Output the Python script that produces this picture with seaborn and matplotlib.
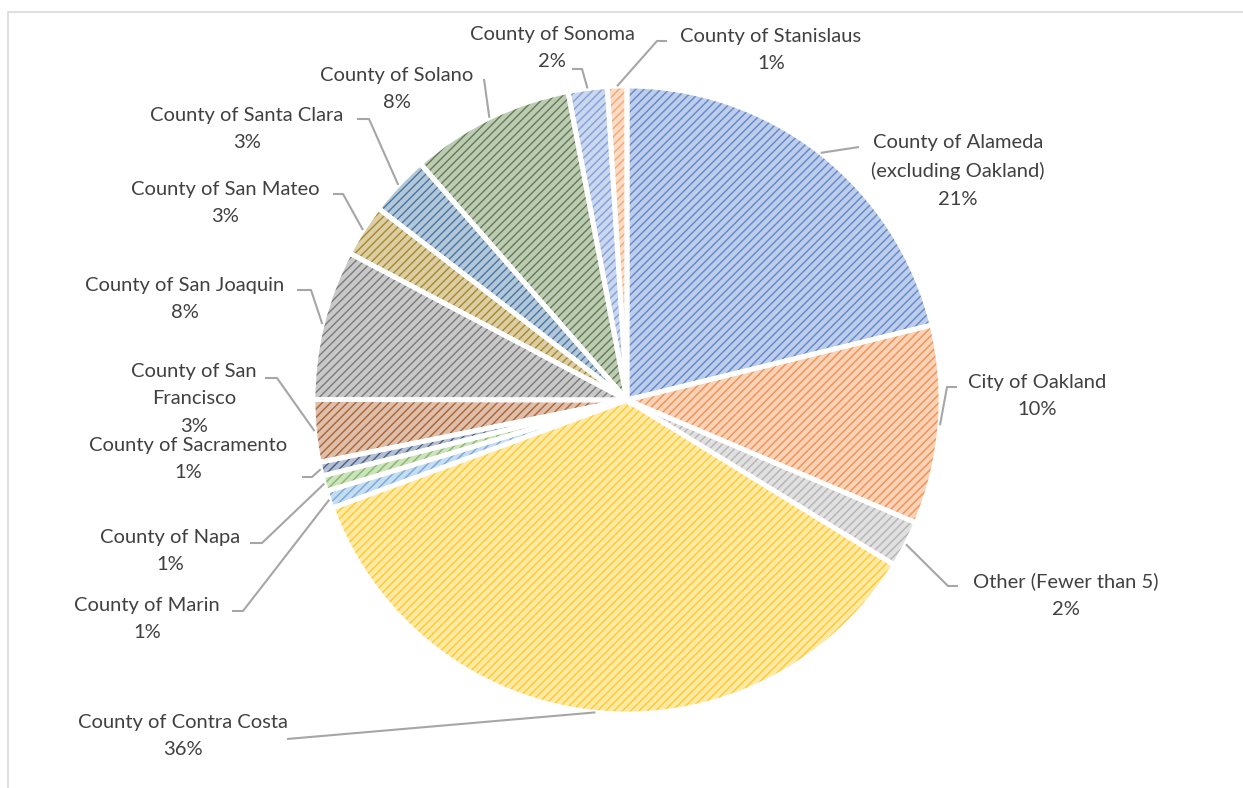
import numpy as np
import seaborn as sns
import matplotlib.pyplot as plt
from matplotlib.colors import to_rgb
from matplotlib.patches import Rectangle

sns.set_theme(style="white")
plt.rcParams['font.family'] = ['Lato', 'DejaVu Sans']

# ---------- data ----------
counties = ["County of Alameda\n(excluding Oakland)", "City of Oakland", "Other (Fewer than 5)",
            "County of Contra Costa", "County of Marin", "County of Napa", "County of Sacramento",
            "County of San\nFrancisco", "County of San Joaquin", "County of San Mateo",
            "County of Santa Clara", "County of Solano", "County of Sonoma", "County of Stanislaus"]
shares = [21.1, 10.2, 2.4, 35.5, 0.9, 0.8, 0.7, 3.2, 7.7, 2.7, 3.1, 8.4, 2.0, 1.0]
colors = ["#4472C4", "#ED7D31", "#A5A5A5", "#FFC000", "#5B9BD5", "#70AD47", "#264478",
          "#9E480E", "#636363", "#997300", "#255E91", "#43682B", "#698ED0", "#F1975A"]

# label layout in pixels: text centre, end of leader at label side, elbow (or None)
label_xy = [(958, 171), (1037, 396), (1066, 595), (183, 736), (147, 619), (170, 551), (188, 459),
            (194, 399), (185, 299), (225, 203), (247, 129), (397, 89), (552, 48), (771, 50)]
leader_end = [(859, 147), (957, 387), (958, 586), (287, 739), (232, 611), (250, 543), (302, 477),
              (265, 378), (297, 290), (333, 194), (357, 119), (484, 79), (572, 69), (667, 41)]
leader_elbow = [None, (947, 387), (948, 586), None, (243, 611), (262, 543), (312, 477),
                (277, 378), (311, 290), (343, 194), (369, 119), None, (582, 69), (657, 41)]

W, H = 1243, 788
CX, CY, R = 627, 400, 314


def px(p):
    return ((p[0] - CX) / R, (CY - p[1]) / R)


def tint(c, f=0.5):
    r = np.array(to_rgb(c))
    return tuple(r * f + (1 - f))


fig = plt.figure(figsize=(W / 100, H / 100), dpi=100)
ax = fig.add_axes([0, 0, 1, 1])

plt.rcParams['hatch.linewidth'] = 1.0

# hatched fill
wedges, _ = ax.pie(shares, startangle=90, counterclock=False, radius=1,
                   colors=[tint(c, 0.35) for c in colors],
                   wedgeprops=dict(linewidth=0))
for w, c in zip(wedges, colors):
    w.set_hatch('////')
    w.set_edgecolor(tint(c, 0.85))
    w.set_linewidth(0)

# white separating edges
ax.pie(shares, startangle=90, counterclock=False, radius=1,
       colors=['none'] * len(shares),
       wedgeprops=dict(linewidth=3.5, edgecolor='white', fill=False))

total = sum(shares)
for w, name, v, txt, end, elb in zip(wedges, counties, shares, label_xy, leader_end, leader_elbow):
    ang = np.deg2rad((w.theta1 + w.theta2) / 2)
    rim = (np.cos(ang), np.sin(ang))
    pts = [px(end)]
    if elb is not None:
        pts.append(px(elb))
    pts.append(rim)
    xs, ys = zip(*pts)
    ax.plot(xs, ys, color="#A6A6A6", lw=1.5, solid_capstyle='butt')
    tx, ty = px(txt)
    ax.text(tx, ty, f"{name}\n{round(v / total * 100):.0f}%", ha='center', va='center',
            multialignment='center', fontsize=14.5, color="#404040", linespacing=1.76)

ax.set_xlim(-CX / R, (W - CX) / R)
ax.set_ylim(-(H - CY) / R, CY / R)
ax.set_aspect('auto')
ax.axis('off')

# chart frame
fig.patches.append(Rectangle((8 / W, -0.1), 1.1, (H - 12) / H + 0.1, transform=fig.transFigure,
                             fill=False, edgecolor="#D9D9D9", lw=1.2))

plt.savefig("out.png", dpi=100)
